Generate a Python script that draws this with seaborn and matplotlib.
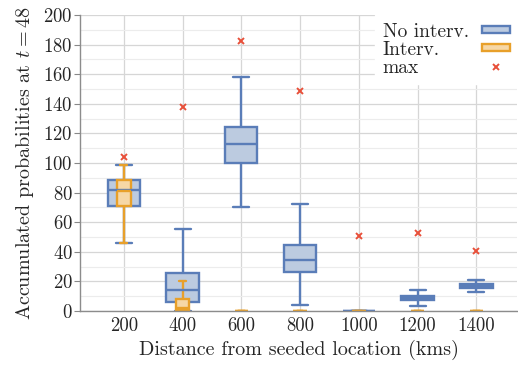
import matplotlib
matplotlib.use("Agg")
import matplotlib.pyplot as plt
import seaborn as sns
import pandas as pd
from matplotlib.patches import Patch
from matplotlib.lines import Line2D
from matplotlib.ticker import MultipleLocator

dists = ["200", "400", "600", "800", "1000", "1200", "1400"]

# box stats: whisker low, q1, median, q3, whisker high
noint_lo = [46, 0, 70.5, 4, 0, 3.4, 12.6]
noint_q1 = [71, 6.3, 100.2, 26.1, 0, 7.4, 15.5]
noint_med = [81.5, 14.2, 112.8, 34.5, 0, 9.0, 16.9]
noint_q3 = [88.5, 25.9, 124.1, 44.6, 0, 10.3, 18.2]
noint_hi = [99, 55.2, 157.9, 72.3, 0, 14.2, 20.9]

int_lo = [46, 0, 0, 0, 0, 0, 0]
int_q1 = [71, 0.7, 0, 0, 0, 0, 0]
int_med = [81.3, 1.8, 0, 0, 0, 0, 0]
int_q3 = [88.5, 8.3, 0, 0, 0, 0, 0]
int_hi = [99, 20.5, 0, 0, 0, 0, 0]

max_vals = [104, 137.6, 182.6, 148.8, 50.7, 52.9, 40.7]


def to_long(lo, q1, med, q3, hi):
    rows = []
    for i, d in enumerate(dists):
        for v in (lo[i], q1[i], med[i], q3[i], hi[i]):
            rows.append({"dist": d, "value": v})
    return pd.DataFrame(rows)


df_no = to_long(noint_lo, noint_q1, noint_med, noint_q3, noint_hi)
df_int = to_long(int_lo, int_q1, int_med, int_q3, int_hi)

sns.set_style("white")
plt.rcParams["font.family"] = "serif"
plt.rcParams["font.serif"] = ["cmr10", "DejaVu Serif"]
plt.rcParams["mathtext.fontset"] = "cm"
plt.rcParams["axes.formatter.use_mathtext"] = True

blue_edge = "#5a7db8"
blue_fill = "#bccbe0"
orange_edge = "#e8a02a"
orange_fill = "#f6d7a6"
red = "#e8503a"

fig, ax = plt.subplots(figsize=(5.18, 3.66), dpi=100)
fig.subplots_adjust(left=0.154, right=0.999, bottom=0.15, top=0.959)

sns.boxplot(data=df_no, x="dist", y="value", order=dists, width=0.55,
            whis=(0, 100), color=blue_fill, linecolor=blue_edge, saturation=1,
            linewidth=1.7, ax=ax)
sns.boxplot(data=df_int, x="dist", y="value", order=dists, width=0.23,
            whis=(0, 100), color=orange_fill, linecolor=orange_edge, saturation=1,
            linewidth=1.7, ax=ax)
sns.pointplot(x=dists, y=max_vals, order=dists, linestyle="none", marker="x",
              color=red, markersize=3.8, markeredgewidth=1.4, errorbar=None, ax=ax)

ax.set_xlim(-0.75, 6.7)
ax.set_ylim(0, 200)
ax.yaxis.set_major_locator(MultipleLocator(20))
ax.yaxis.set_minor_locator(MultipleLocator(10))
ax.set_axisbelow(True)
ax.grid(which="major", axis="both", color="#d6d6d6", linewidth=0.9)
ax.grid(which="minor", axis="y", color="#ececec", linewidth=0.8)
ax.tick_params(axis="y", which="major", left=True, length=4, width=0.8,
               color="#888888", labelsize=13.5, pad=1)
ax.tick_params(axis="y", which="minor", length=0)
ax.tick_params(axis="x", length=0, labelsize=13.5, pad=4)
for s in ("top", "right"):
    ax.spines[s].set_visible(False)
for s in ("left", "bottom"):
    ax.spines[s].set_color("#8c8c8c")
    ax.spines[s].set_linewidth(1.0)

ax.set_xlabel("Distance from seeded location (kms)", fontsize=14.5, labelpad=4)
ax.set_ylabel("Accumulated probabilities at $t = 48$", fontsize=14.5, labelpad=5)

handles = [
    Patch(facecolor=blue_fill, edgecolor=blue_edge, linewidth=1.7),
    Patch(facecolor=orange_fill, edgecolor=orange_edge, linewidth=1.7),
    Line2D([], [], marker="x", linestyle="none", color=red, markersize=3.8,
           markeredgewidth=1.4),
]
leg = ax.legend(handles, ["No interv.", "Interv.", "max"], loc="upper right",
                markerfirst=False, frameon=True, framealpha=1, fancybox=False,
                edgecolor="white", fontsize=14, handlelength=1.4,
                handleheight=0.2, labelspacing=0.0, borderaxespad=0,
                borderpad=0.4, handletextpad=0.7)

# left-align the labels while keeping the handles in one column
fig.canvas.draw()
renderer = fig.canvas.get_renderer()
column = leg._legend_handle_box.get_children()[0]
items = column.get_children()
widths = [it.get_children()[0].get_bbox(renderer).width for it in items]
base_sep = items[0].sep
for it, w in zip(items, widths):
    it.sep = base_sep + (max(widths) - w) * 72 / fig.dpi

fig.savefig("out.png", dpi=100)
